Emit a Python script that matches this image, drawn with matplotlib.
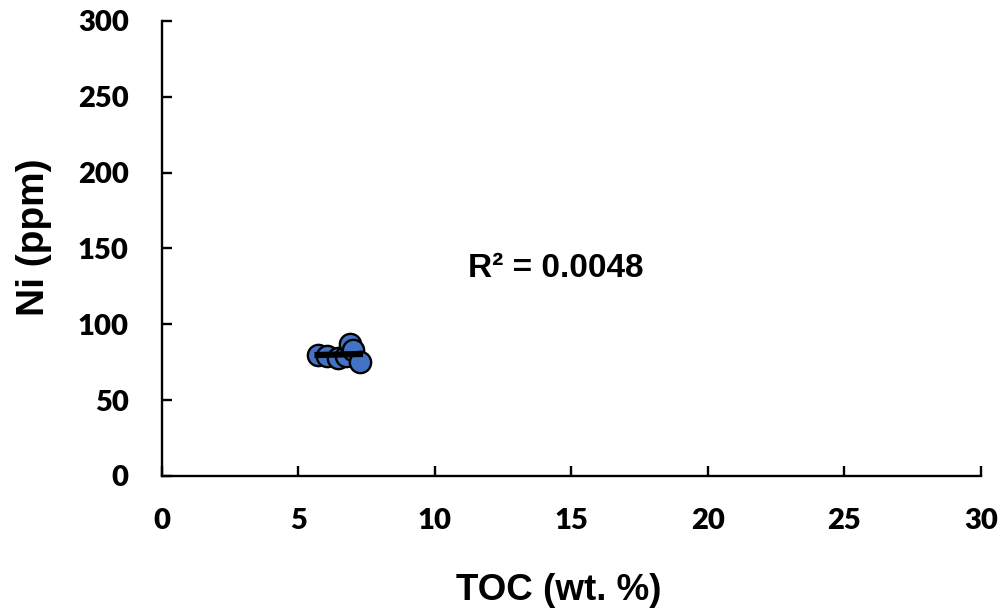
import numpy as np
import matplotlib.pyplot as plt

# TOC vs Ni samples
toc = [5.7, 6.05, 6.45, 6.75, 6.9, 7.0, 7.25]
ni = [80, 79, 78, 79, 87, 83, 75]
r2_text = 'R² = 0.0048'

x_ticks = [0, 5, 10, 15, 20, 25, 30]
y_ticks = [0, 50, 100, 150, 200, 250, 300]


def main():
    fig = plt.figure(figsize=(10.08, 6.1), dpi=100)
    ax = fig.add_axes([0.1607, 0.2197, 0.8125, 0.7459])

    ax.scatter(toc, ni, s=235, color='#4472C4', edgecolors='black',
               linewidths=1.7, zorder=3)

    # linear trendline across the data range
    k, b = np.polyfit(toc, ni, 1)
    xs = np.array([min(toc), max(toc)])
    ax.plot(xs, k * xs + b, color='black', linewidth=4.5, zorder=4)

    ax.text(14.43, 137, r2_text, fontsize=24, fontweight='bold',
            family='Liberation Sans', ha='center', va='center')

    ax.set_xlim(0, 30)
    ax.set_ylim(0, 300)
    ax.set_xticks(x_ticks)
    ax.set_yticks(y_ticks)

    for side in ['top', 'right']:
        ax.spines[side].set_visible(False)
    for side in ['left', 'bottom']:
        ax.spines[side].set_linewidth(1.7)

    ax.tick_params(axis='both', direction='in', length=7, width=1.7)
    ax.tick_params(axis='x', pad=23)
    ax.tick_params(axis='y', pad=24)
    for label in ax.get_xticklabels() + ax.get_yticklabels():
        label.set_fontsize(21)
        label.set_fontweight('heavy')
        label.set_family('Lato')

    ax.set_xlabel('TOC (wt. %)', fontsize=26.5, fontweight='bold',
                  family='Liberation Sans')
    ax.set_ylabel('Ni (ppm)', fontsize=28, fontweight='bold',
                  family='Liberation Sans')
    ax.xaxis.set_label_coords(0.485, -0.213)
    ax.yaxis.set_label_coords(-0.134, 0.525)

    fig.savefig('out.png', dpi=100)


if __name__ == '__main__':
    main()
